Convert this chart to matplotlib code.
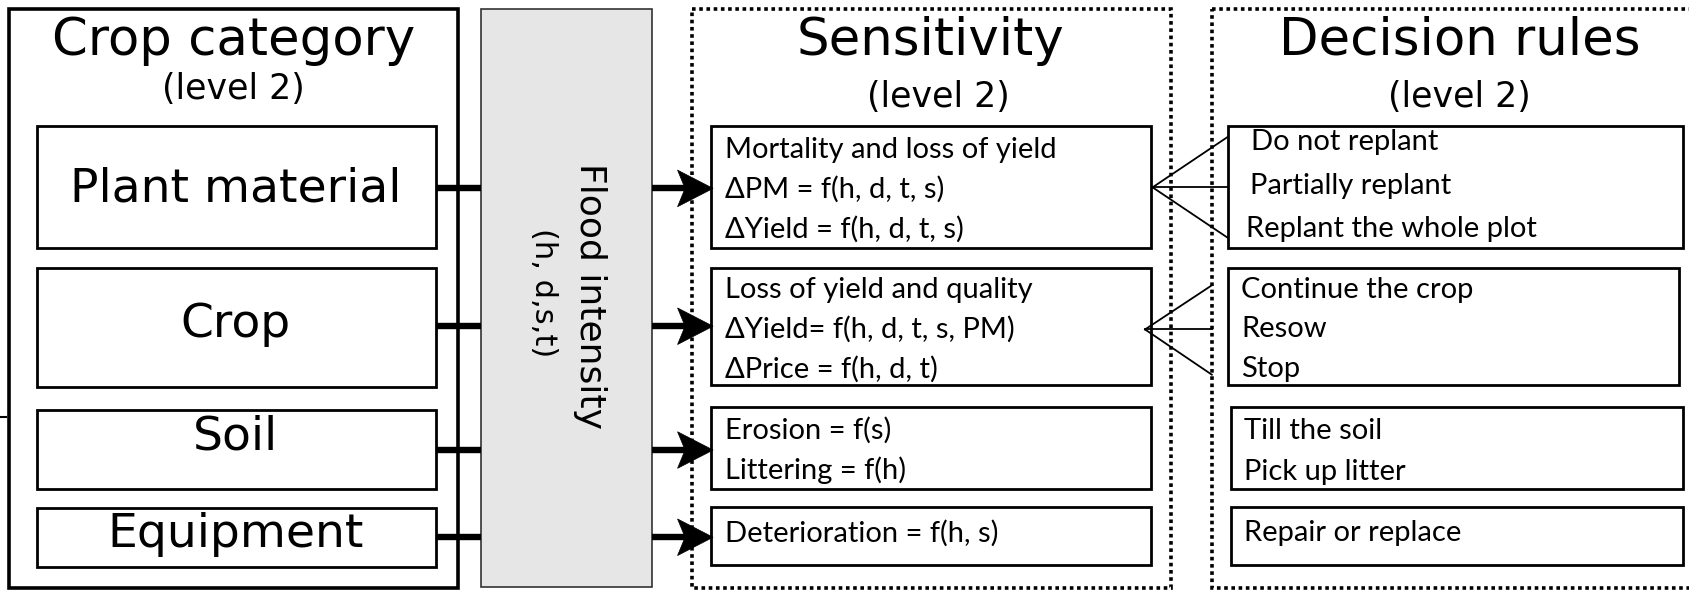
import matplotlib
matplotlib.use("Agg")
import matplotlib.pyplot as plt
from matplotlib.patches import Rectangle, Polygon

# --- content ---
category_title = "Crop category"
category_names = ["Plant material", "Crop", "Soil", "Equipment"]
flood_title = "Flood intensity"
flood_vars = "(h, d,s,t)"
sens_title = "Sensitivity"
sens_lines = [
    ["Mortality and loss of yield", "ΔPM = f(h, d, t, s)", "ΔYield = f(h, d, t, s)"],
    ["Loss of yield and quality", "ΔYield= f(h, d, t, s, PM)", "ΔPrice = f(h, d, t)"],
    ["Erosion = f(s)", "Littering = f(h)"],
    ["Deterioration = f(h, s)"],
]
rule_title = "Decision rules"
rule_lines = [
    ["Do not replant", "Partially replant", "Replant the whole plot"],
    ["Continue the crop", "Resow", "Stop"],
    ["Till the soil", "Pick up litter"],
    ["Repair or replace"],
]
level = "(level 2)"

# --- layout (in the 1568x548 reference grid) ---
rows_y = [(117, 230), (249, 359), (381, 454), (472, 527)]
link_y = [175, 303, 418, 499]
cat_text_y = [176, 301, 406, 496]
sens_rows = [(117, 230), (249, 358), (378, 454), (471, 525)]
line_gap = 37
sens_first = [139, 269, 400, 495]
rule_x = [[1161, 1160, 1157], [1152, 1152, 1152], [1155, 1155], [1155]]
rule_box_x = [(1140, 1562), (1140, 1559), (1143, 1562), (1143, 1562)]
rule_first = [132, 269, 400, 495]
rule_gap = [40.5, 37, 38, 0]

W, H = 1568, 548
fig = plt.figure(figsize=(16.89, 5.90), dpi=100)
ax = fig.add_axes([0, 0, 1, 1])
ax.set_xlim(0, W)
ax.set_ylim(H, 0)
ax.axis("off")

title_font = "DejaVu Sans"
body_font = "Lato"
body_size = 21

def box(x0, y0, x1, y1, lw=1.6, ls="-", fc="none", ec="black", z=2):
    ax.add_patch(Rectangle((x0, y0), x1 - x0, y1 - y0, fill=fc != "none",
                           facecolor=fc, edgecolor=ec, lw=lw, ls=ls, zorder=z))

def arrow(x0, x1, y, head=33, half=17, notch=7):
    ax.plot([x0, x1 - head + notch], [y, y], color="black", lw=4.6,
            solid_capstyle="butt", zorder=5)
    ax.add_patch(Polygon([(x1, y), (x1 - head, y - half), (x1 - head + notch, y),
                          (x1 - head, y + half)], closed=True, fc="black",
                         ec="black", lw=0.5, zorder=6))

# left column
box(8, 8, 425, 546, lw=2.6)
ax.text(217, 38, category_title, ha="center", va="center", fontsize=37, family=title_font)
ax.text(217, 83, level, ha="center", va="center", fontsize=25, family=title_font)
for (y0, y1), ty, name in zip(rows_y, cat_text_y, category_names):
    box(34, y0, 405, y1, lw=2.0)
    ax.text(219, ty, name, ha="center", va="center", fontsize=34, family=title_font)
ax.plot([0, 6], [387, 387], color="black", lw=1.5)

# connectors to flood box
for y in link_y:
    ax.plot([405, 447], [y, y], color="black", lw=4.6, solid_capstyle="butt", zorder=3)

# flood intensity box
box(447, 8, 605, 545, lw=1.2, fc="#e6e6e6", ec="#333333", z=2)
ax.text(548, 275, flood_title, rotation=-90, ha="center", va="center", fontsize=26,
        family=title_font, zorder=4)
ax.text(505, 272, flood_vars, rotation=-90, ha="center", va="center", fontsize=22,
        family=title_font, zorder=4)

# arrows to sensitivity boxes
for y in link_y:
    arrow(605, 662, y)

# sensitivity column
box(642, 8, 1087, 546, lw=2.6, ls=(0, (1, 1)))
ax.text(864, 38, sens_title, ha="center", va="center", fontsize=37, family=title_font)
ax.text(871, 90, level, ha="center", va="center", fontsize=25, family=title_font)
for (y0, y1), fy, lines in zip(sens_rows, sens_first, sens_lines):
    box(660, y0, 1069, y1, lw=2.0)
    for k, t in enumerate(lines):
        ax.text(673, fy + k * line_gap, t, ha="left", va="center", fontsize=body_size,
                family=body_font)

# decision rules column
box(1125, 8, 1575, 546, lw=2.6, ls=(0, (1, 1)))
ax.text(1355, 38, rule_title, ha="center", va="center", fontsize=37, family=title_font)
ax.text(1355, 90, level, ha="center", va="center", fontsize=25, family=title_font)
for (y0, y1), (x0, x1), fy, gap, xs, lines in zip(sens_rows, rule_box_x, rule_first,
                                                 rule_gap, rule_x, rule_lines):
    box(x0, y0, x1, y1, lw=2.0)
    for k, (tx, t) in enumerate(zip(xs, lines)):
        ax.text(tx, fy + k * gap, t, ha="left", va="center", fontsize=body_size,
                family=body_font)

# fan lines between sensitivity and decision boxes
fans = [((1070, 174), [127, 174, 221], 1140), ((1063, 306), [265, 306, 348], 1125)]
for (ax0, ay0), ends, xe in fans:
    for ye in ends:
        ax.plot([ax0, xe], [ay0, ye], color="black", lw=1.3, zorder=4)

fig.savefig("out.png", dpi=100)
